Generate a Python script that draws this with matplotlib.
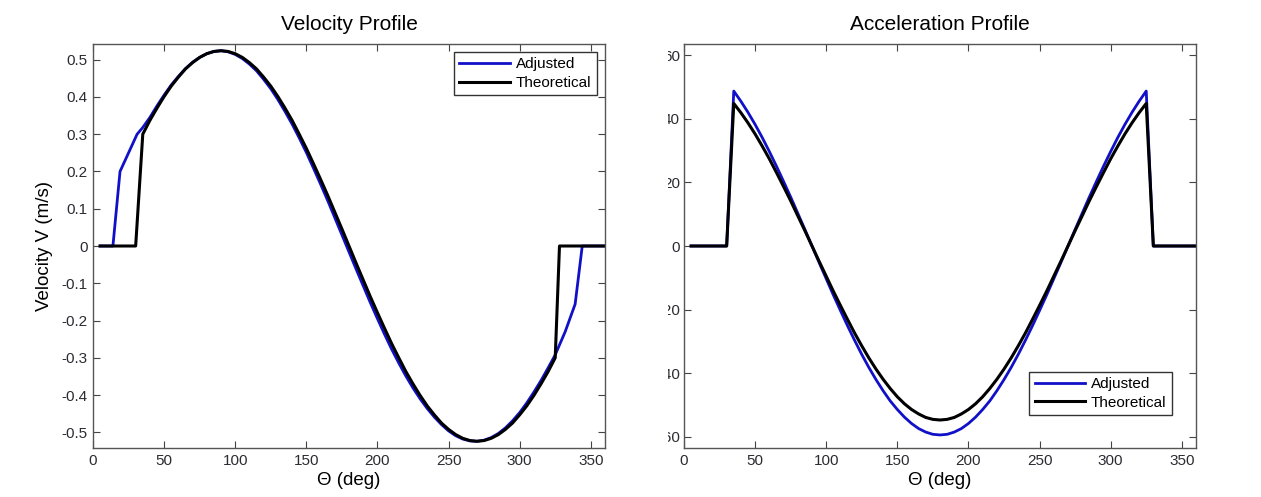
import matplotlib
matplotlib.use("Agg")
import matplotlib.pyplot as plt
from matplotlib.patches import Rectangle

plt.rcParams['font.family'] = ['Liberation Sans', 'DejaVu Sans']

# theta grid used for the sampled part of the curves (deg)
theta_mid = list(range(35, 330, 5))

# velocity profile (m/s)
vel_theta_theo = [5, 30] + theta_mid + [328, 360]
vel_theo = [0, 0,
            0.300, 0.337, 0.370, 0.401, 0.429, 0.453, 0.475, 0.492, 0.506, 0.516, 0.522, 0.524,
            0.522, 0.516, 0.506, 0.492, 0.475, 0.453, 0.429, 0.401, 0.370, 0.337, 0.300, 0.262,
            0.221, 0.179, 0.136, 0.091, 0.046, 0.0,
            -0.046, -0.091, -0.136, -0.179, -0.221, -0.262, -0.300, -0.337, -0.370, -0.401,
            -0.429, -0.453, -0.475, -0.492, -0.506, -0.516, -0.522, -0.524, -0.522, -0.516,
            -0.506, -0.492, -0.475, -0.453, -0.429, -0.401, -0.370, -0.337, -0.300,
            0, 0]

vel_theta_adj = [5, 14, 19, 31] + theta_mid + [332, 339, 344, 360]
vel_adj = [0, 0, 0.20, 0.30,
           0.318, 0.345, 0.376, 0.405, 0.432, 0.455, 0.476, 0.493, 0.506, 0.516, 0.522, 0.524,
           0.521, 0.514, 0.503, 0.488, 0.470, 0.447, 0.422, 0.393, 0.361, 0.327, 0.290, 0.251,
           0.209, 0.166, 0.122, 0.076, 0.030, -0.016,
           -0.062, -0.107, -0.152, -0.195, -0.237, -0.277, -0.314, -0.349, -0.381, -0.410,
           -0.436, -0.459, -0.479, -0.496, -0.509, -0.518, -0.523, -0.524, -0.521, -0.514,
           -0.503, -0.488, -0.469, -0.447, -0.421, -0.392, -0.361, -0.327, -0.292,
           -0.230, -0.156, 0, 0]

# acceleration profile
acc_theta = [5, 30] + theta_mid + [330, 360]
acc_theo = [0, 0,
            44.8, 41.9, 38.7, 35.2, 31.4, 27.4, 23.1, 18.7, 14.2, 9.5, 4.8, 0,
            -4.8, -9.5, -14.2, -18.7, -23.1, -27.4, -31.4, -35.2, -38.7, -41.9, -44.8, -47.4,
            -49.6, -51.4, -52.8, -53.9, -54.5, -54.7,
            -54.5, -53.9, -52.8, -51.4, -49.6, -47.4, -44.8, -41.9, -38.7, -35.2, -31.4,
            -27.4, -23.1, -18.7, -14.2, -9.5, -4.8, 0, 4.8, 9.5, 14.2, 18.7, 23.1, 27.4,
            31.4, 35.2, 38.7, 41.9, 44.8,
            0, 0]
acc_adj = [0, 0,
           48.7, 45.5, 42.0, 38.2, 34.1, 29.7, 25.1, 20.3, 15.4, 10.3, 5.2, 0,
           -5.2, -10.3, -15.4, -20.3, -25.1, -29.7, -34.1, -38.2, -42.0, -45.5, -48.7, -51.4,
           -53.8, -55.8, -57.4, -58.5, -59.2, -59.4,
           -59.2, -58.5, -57.4, -55.8, -53.8, -51.4, -48.7, -45.5, -42.0, -38.2, -34.1,
           -29.7, -25.1, -20.3, -15.4, -10.3, -5.2, 0, 5.2, 10.3, 15.4, 20.3, 25.1, 29.7,
           34.1, 38.2, 42.0, 45.5, 48.7,
           0, 0]

x_ticks = [0, 50, 100, 150, 200, 250, 300, 350]
vel_ticks = [-0.5, -0.4, -0.3, -0.2, -0.1, 0, 0.1, 0.2, 0.3, 0.4, 0.5]
vel_labels = ['-0.5', '-0.4', '-0.3', '-0.2', '-0.1', '0', '0.1', '0.2', '0.3', '0.4', '0.5']
acc_ticks = [-60, -40, -20, 0, 20, 40, 60]

blue = '#1010c8'
W, H = 1261, 497
fig = plt.figure(figsize=(W / 100, H / 100), dpi=100)
ax1 = fig.add_axes([93 / W, 49 / H, 512 / W, 404 / H])
ax2 = fig.add_axes([684 / W, 49 / H, 512 / W, 404 / H])


def style(ax):
    ax.set_xlim(0, 360)
    ax.set_xticks(x_ticks)
    ax.tick_params(direction='in', top=True, right=True, labelsize=11,
                   labelcolor='#2b2b33', color='#444444', length=5, pad=4)
    for s in ax.spines.values():
        s.set_color('#555555')
        s.set_linewidth(1.0)
    ax.set_xlabel('Θ (deg)', fontsize=13.5, labelpad=3)


ax1.plot(vel_theta_adj, vel_adj, color=blue, lw=2, label='Adjusted')
ax1.plot(vel_theta_theo, vel_theo, color='black', lw=2.2, label='Theoretical')
style(ax1)
ax1.set_ylim(-0.542, 0.542)
ax1.set_yticks(vel_ticks)
ax1.set_yticklabels(vel_labels)
ax1.set_ylabel('Velocity V (m/s)', fontsize=13.5, labelpad=6)
ax1.set_title('Velocity Profile', fontsize=15, pad=10)
ax1.legend(loc='upper right', bbox_to_anchor=(0.984, 0.98), fontsize=11, frameon=True,
           fancybox=False, edgecolor='#333333', framealpha=1, handlelength=3.3,
           borderpad=0.35, labelspacing=0.3, handletextpad=0.4, borderaxespad=0)

ax2.plot(acc_theta, acc_adj, color=blue, lw=2, label='Adjusted')
ax2.plot(acc_theta, acc_theo, color='black', lw=2.2, label='Theoretical')
style(ax2)
ax2.set_ylim(-63.5, 63.5)
ax2.set_yticks(acc_ticks)
ax2.tick_params(axis='y', pad=3)
ax2.set_title('Acceleration Profile', fontsize=15, pad=10)
ax2.legend(loc='lower right', bbox_to_anchor=(0.953, 0.082), fontsize=11, frameon=True,
           fancybox=False, edgecolor='#333333', framealpha=1, handlelength=3.3,
           borderpad=0.35, labelspacing=0.3, handletextpad=0.4, borderaxespad=0)

# the right panel's tick labels are partly hidden in the source screenshot
fig.patches.append(Rectangle((612 / W, 30 / H), (668 - 612) / W, 440 / H,
                             transform=fig.transFigure, facecolor='white',
                             edgecolor='none', zorder=5))

fig.savefig('out.png', dpi=100)
